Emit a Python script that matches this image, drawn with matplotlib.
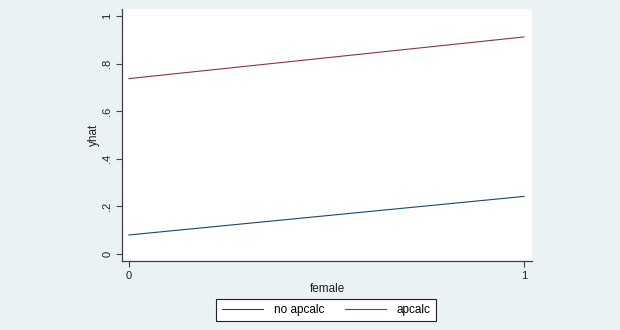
import matplotlib
matplotlib.use("Agg")
import matplotlib.pyplot as plt

plt.rcParams['font.family'] = ['Liberation Sans', 'DejaVu Sans']

female = [0, 1]
yhat_no_apcalc = [0.080, 0.242]
yhat_apcalc = [0.737, 0.912]
series_labels = ["no apcalc", "apcalc"]
y_ticks = [0, 0.2, 0.4, 0.6, 0.8, 1.0]
y_tick_labels = ["0", ".2", ".4", ".6", ".8", "1"]
x_ticks = [0, 1]
x_tick_labels = ["0", "1"]

bg = "#EAF2F3"
fig = plt.figure(figsize=(6.2, 3.3), dpi=100, facecolor=bg)
ax = fig.add_axes([122/620, 1-261/330, 410/620, 252/330])
ax.set_facecolor("white")

l1, = ax.plot(female, yhat_no_apcalc, color="#1A476F", lw=0.8, label=series_labels[0])
l2, = ax.plot(female, yhat_apcalc, color="#90353B", lw=0.8, label=series_labels[1])

ax.set_xlim(-7/395, 1 + 8/395)
ax.set_ylim(-7/238, 1 + 7/238)

ax.set_yticks(y_ticks)
ax.set_yticklabels(y_tick_labels, rotation=90, va="center")
ax.set_xticks(x_ticks)
ax.set_xticklabels(x_tick_labels)

for s in ["top", "right"]:
    ax.spines[s].set_visible(False)
for s in ["left", "bottom"]:
    ax.spines[s].set_color("#404040")
    ax.spines[s].set_linewidth(0.9)

ax.tick_params(axis="both", direction="out", length=4, width=0.8, color="#404040",
               labelsize=8, labelcolor="#222222", pad=3)

ax.set_xlabel("female", fontsize=8.5, color="#222222", labelpad=2)
ax.set_ylabel("yhat", fontsize=8.5, color="#222222", labelpad=2)

leg = fig.legend(handles=[l1, l2], loc="center", bbox_to_anchor=(326/620, 1-310/330),
                 ncol=2, frameon=True, fancybox=False, fontsize=8.5, handlelength=3.5,
                 columnspacing=1.75, handletextpad=0.9, borderpad=0.45, edgecolor="#222222",
                 facecolor="white", framealpha=1)
leg.get_frame().set_linewidth(0.8)

fig.savefig("out.png", dpi=100, facecolor=bg)
